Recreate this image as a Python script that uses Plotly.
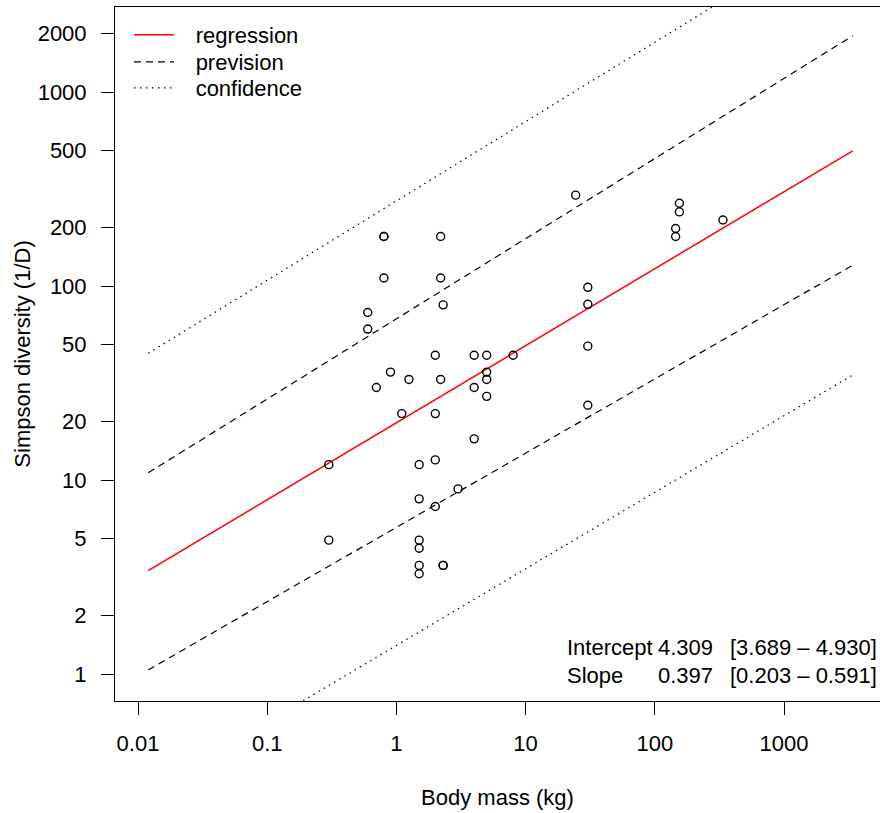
import plotly.graph_objects as go

# ---- data ----
body_mass = [0.8, 0.8, 2.2, 0.8, 2.2, 2.3, 0.6, 0.6, 2.0, 4.0, 5.0, 8.0,
             0.9, 5.0, 1.25, 2.2, 5.0, 0.7, 4.0, 5.0, 1.1, 2.0, 4.0, 0.3,
             1.5, 2.0, 3.0, 1.5, 2.0, 0.3, 1.5, 1.5, 1.5, 2.3, 2.3, 1.5,
             24.4, 155, 155, 145, 145, 337, 30.3, 30.3, 30.3, 30.3]
simpson = [180, 180, 180, 110, 110, 80, 73, 60, 44, 44, 44, 44,
           36, 36, 33, 33, 33, 30, 30, 27, 22, 22, 16.3, 12,
           12, 12.7, 9, 8, 7.3, 4.9, 4.9, 4.45, 3.63, 3.63, 3.63, 3.29,
           294, 267, 241, 198, 180, 219, 98.5, 80.5, 49, 24.3]

line_mass = [0.0120, 3404]
regression = [3.41, 498]
prevision_low = [1.05, 128]
prevision_high = [10.9, 1950]
confidence_low = [0.245, 34.8]
confidence_high = [45.0, 7640]

x_ticks = [0.01, 0.1, 1, 10, 100, 1000]
x_tick_labels = ["0.01", "0.1", "1", "10", "100", "1000"]
y_ticks = [1, 2, 5, 10, 20, 50, 100, 200, 500, 1000, 2000]
y_tick_labels = ["1", "2", "5", "10", "20", "50", "100", "200", "500", "1000", "2000"]

legend_names = ["regression", "prevision", "confidence"]

stats_labels = ["Intercept", "Slope"]
stats_values = ["4.309", "0.397"]
stats_ci = ["[3.689 \u2013 4.930]", "[0.203 \u2013 0.591]"]

FONT = "Liberation Sans, Arial, Helvetica, sans-serif"
FS = 22
W, H = 880, 813
L, R, T, B = 115, 0, 7, 112
PW, PH = W - L - R, H - T - B


def px_x(p):
    return (p - L) / PW


def px_y(p):
    return (H - B - p) / PH


NB = "\u00a0\u00a0\u2009"

fig = go.Figure()

fig.add_trace(go.Scatter(x=line_mass, y=regression, mode="lines",
                         line=dict(color="#ff0000", width=1.5),
                         name=NB + legend_names[0], legend="legend"))
fig.add_trace(go.Scatter(x=line_mass, y=prevision_high, mode="lines",
                         line=dict(color="black", width=1.2, dash="7px,5px"),
                         name=NB + legend_names[1], legend="legend2"))
fig.add_trace(go.Scatter(x=line_mass, y=prevision_low, mode="lines",
                         line=dict(color="black", width=1.2, dash="7px,5px"),
                         name=NB + legend_names[1], showlegend=False))
fig.add_trace(go.Scatter(x=line_mass, y=confidence_high, mode="lines",
                         line=dict(color="black", width=1.2, dash="1.5px,4.5px"),
                         name=NB + legend_names[2], legend="legend3"))
fig.add_trace(go.Scatter(x=line_mass, y=confidence_low, mode="lines",
                         line=dict(color="black", width=1.2, dash="1.5px,4.5px"),
                         name=NB + legend_names[2], showlegend=False))
fig.add_trace(go.Scatter(x=body_mass, y=simpson, mode="markers",
                         marker=dict(symbol="circle-open", size=8, color="black",
                                     line=dict(width=1.4, color="black")),
                         showlegend=False, name="species"))

annotations = []
for i, (lab, val, ci) in enumerate(zip(stats_labels, stats_values, stats_ci)):
    yc = px_y(647 + 28 * i)
    tf = dict(size=FS, color="black", family=FONT)
    annotations.append(dict(x=px_x(565), y=yc, xref="paper", yref="paper",
                            text=lab, showarrow=False, xanchor="left",
                            yanchor="middle", font=tf))
    annotations.append(dict(x=px_x(715), y=yc, xref="paper", yref="paper",
                            text=val, showarrow=False, xanchor="right",
                            yanchor="middle", font=tf))
    annotations.append(dict(x=px_x(879), y=yc, xref="paper", yref="paper",
                            text=ci, showarrow=False, xanchor="right",
                            yanchor="middle", font=tf))


def leg(ycenter):
    return dict(x=px_x(129), y=px_y(ycenter), xanchor="left", yanchor="middle",
                bgcolor="rgba(0,0,0,0)", borderwidth=0,
                font=dict(size=FS, family=FONT, color="black"),
                itemwidth=40, tracegroupgap=0)


fig.update_layout(
    width=W, height=H,
    margin=dict(l=L, r=R, t=T, b=B, pad=0),
    paper_bgcolor="white", plot_bgcolor="white",
    font=dict(family=FONT, size=FS, color="black"),
    showlegend=True,
    legend=leg(35), legend2=leg(62), legend3=leg(88),
    annotations=annotations,
    xaxis=dict(type="log", range=[-2.178, -2.178 + PW / 129.2],
               tickmode="array", tickvals=x_ticks, ticktext=x_tick_labels,
               ticks="outside", ticklen=13, tickwidth=1, tickcolor="black",
               ticklabelstandoff=10,
               showline=True, linecolor="black", linewidth=1, mirror=True,
               showgrid=False, zeroline=False,
               tickfont=dict(size=FS, family=FONT, color="black"),
               title=dict(text="Body mass (kg)", standoff=34,
                          font=dict(size=FS, family=FONT, color="black"))),
    yaxis=dict(type="log", range=[-0.139, -0.139 + PH / 194.0],
               tickmode="array", tickvals=y_ticks, ticktext=y_tick_labels,
               ticks="outside", ticklen=13, tickwidth=1, tickcolor="black",
               ticklabelstandoff=10,
               showline=True, linecolor="black", linewidth=1, mirror=False,
               showgrid=False, zeroline=False,
               tickfont=dict(size=FS, family=FONT, color="black"),
               title=dict(text="Simpson diversity (1/D)", standoff=0,
                          font=dict(size=FS, family=FONT, color="black"))),
)

fig.write_html("out.html", config={"displayModeBar": False},
               post_script="document.body.style.margin='0';")
